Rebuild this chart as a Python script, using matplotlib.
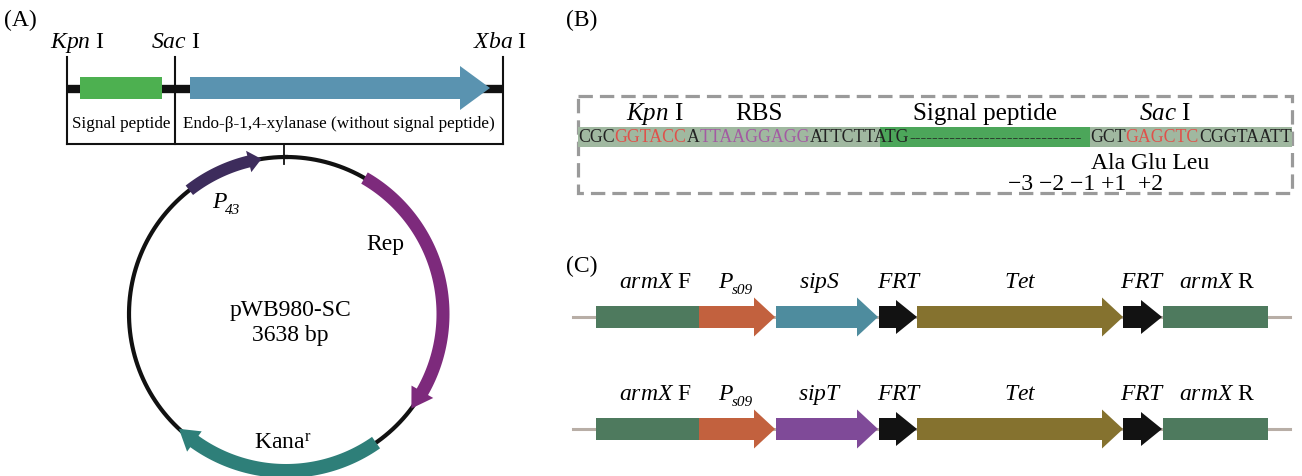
import numpy as np
import matplotlib
matplotlib.use('Agg')
import matplotlib.pyplot as plt
from matplotlib.patches import Polygon, Rectangle

plt.rcParams['font.family'] = ['Liberation Serif', 'DejaVu Serif']
plt.rcParams['mathtext.fontset'] = 'custom'
plt.rcParams['mathtext.rm'] = 'Liberation Serif'
plt.rcParams['mathtext.it'] = 'Liberation Serif:italic'

# ---- panel A: insert map (positions along the construct) ----
site_names = [r'$Kpn$ I', r'$Sac$ I', r'$Xba$ I']
site_pos = [67, 175, 503]
site_label_x = [77, 176, 500]
sp_span = (80, 162)          # signal peptide box
xyl_span = (190, 490)        # xylanase arrow (tip at end)
insert_labels = ['Signal peptide', 'Endo-β-1,4-xylanase (without signal peptide)']

# plasmid features, degrees clockwise from top
plasmid_name = 'pWB980-SC\n3638 bp'
feat_names = [('P', '43'), 'Rep', r'Kana$^{\mathrm{r}}$']
feat_start = [322, 30, 145]
feat_end = [351, 127, 223]
feat_colors = ['#3d2c5c', '#7d2a7c', '#2e7f79']
feat_label_xy = [(230, 203), (385, 245), (283, 443)]

# ---- panel B: sequence ----
seq_left = [('CGC', '#222222'), ('GGTACC', '#e0504a'), ('A', '#222222'),
            ('TTAAGGAGG', '#a35aa3'), ('ATTCTTATG', '#222222')]
seq_right = [('GCT', '#222222'), ('GAGCTC', '#e0504a'), ('CGGTAATT', '#222222')]
b_labels = [r'$Kpn$ I', 'RBS', 'Signal peptide', r'$Sac$ I']
b_label_x = [655, 759, 985, 1165]

# ---- panel C: cassettes ----
c_row1 = [r'$armX$ F', ('P', 's09'), r'$sipS$', r'$FRT$', r'$Tet$', r'$FRT$', r'$armX$ R']
c_row2 = [r'$armX$ F', ('P', 's09'), r'$sipT$', r'$FRT$', r'$Tet$', r'$FRT$', r'$armX$ R']
c_start = [596, 699, 776, 879, 917, 1123, 1163]
c_end = [699, 775, 878, 917, 1123, 1162, 1268]
c_label_x = [655, 737, 820, 900, 1020, 1143, 1217]
c_colors1 = ['#4e7a5e', '#c2613e', '#4e8c9e', '#121212', '#85722f', '#121212', '#4e7a5e']
c_colors2 = ['#4e7a5e', '#c2613e', '#7f4a98', '#121212', '#85722f', '#121212', '#4e7a5e']

fig = plt.figure(figsize=(13.02, 4.77), dpi=100)
ax = fig.add_axes([0, 0, 1, 1])
ax.set_xlim(0, 1302)
ax.set_ylim(477, 0)
ax.axis('off')

FS = 17


def label(x, y, lab):
    # plain string, or (main, subscript) pair in italics
    if isinstance(lab, tuple):
        main, sub = lab
        ax.text(x - 4, y, main, fontsize=FS, style='italic', ha='right', va='center')
        ax.text(x - 5, y + 8, sub, fontsize=11, style='italic', ha='left', va='center')
    else:
        ax.text(x, y, lab, fontsize=FS, ha='center', va='center')


# panel letters
ax.text(20, 20, '(A)', fontsize=FS, ha='center', va='center')
ax.text(582, 20, '(B)', fontsize=FS, ha='center', va='center')
ax.text(582, 266, '(C)', fontsize=FS, ha='center', va='center')

# ----- A: insert -----
ax.plot([site_pos[0], site_pos[2]], [90, 90], color='#111111', lw=6,
        solid_capstyle='butt', zorder=1)
for x, lab, lx in zip(site_pos, site_names, site_label_x):
    ax.plot([x, x], [58, 145], color='#111111', lw=1.5)
    ax.text(lx, 43, lab, fontsize=FS, ha='center', va='center')
ax.plot([site_pos[0], site_pos[2]], [145, 145], color='#111111', lw=1.5)
ax.add_patch(Rectangle((sp_span[0], 78), sp_span[1] - sp_span[0], 22, color='#4db050',
                       lw=0, zorder=2))
x0, x1 = xyl_span
ax.add_patch(Polygon([(x0, 78), (x1 - 30, 78), (x1 - 30, 67), (x1, 89),
                      (x1 - 30, 111), (x1 - 30, 100), (x0, 100)], closed=True,
                     color='#5a93b0', lw=0, zorder=2))
ax.text((site_pos[0] + site_pos[1]) / 2, 124, insert_labels[0], fontsize=12.3, ha='center', va='center')
ax.text((site_pos[1] + site_pos[2]) / 2, 124, insert_labels[1], fontsize=12.3, ha='center', va='center')
ax.plot([284, 284], [145, 165], color='#111111', lw=1.3)

# ----- A: plasmid -----
cx, cy, R = 286, 315, 157
t = np.radians(np.linspace(0, 360, 400))
ax.plot(cx + R * np.sin(t), cy - R * np.cos(t), color='#111111', lw=3)


def arc_arrow(a0, a1, width, head_w, head_len, color):
    head_deg = np.degrees(head_len / R)
    body_end = a1 - head_deg
    ang = np.radians(np.linspace(a0, body_end, 80))
    ro, ri = R + width / 2, R - width / 2
    outer = list(zip(cx + ro * np.sin(ang), cy - ro * np.cos(ang)))
    inner = list(zip(cx + ri * np.sin(ang), cy - ri * np.cos(ang)))[::-1]
    be = np.radians(body_end)
    tip = np.radians(a1)
    head = [(cx + (R + head_w / 2) * np.sin(be), cy - (R + head_w / 2) * np.cos(be)),
            (cx + R * np.sin(tip), cy - R * np.cos(tip)),
            (cx + (R - head_w / 2) * np.sin(be), cy - (R - head_w / 2) * np.cos(be))]
    ax.add_patch(Polygon(outer + head + inner, closed=True, color=color, lw=0, zorder=3))


arc_arrow(feat_start[0], feat_end[0], 12, 22, 13, feat_colors[0])
arc_arrow(feat_start[1], feat_end[1], 13, 25, 20, feat_colors[1])
arc_arrow(feat_start[2], feat_end[2], 14, 25, 20, feat_colors[2])
for name, (lx, ly) in zip(feat_names, feat_label_xy):
    label(lx, ly, name)
ax.text(290, 323, plasmid_name, fontsize=FS, ha='center', va='center', linespacing=1.25)

# ----- B: sequence box -----
ax.add_patch(Rectangle((578, 97), 1292 - 578, 194 - 97, fill=False, ec='#9a9a9a',
                       lw=2.3, ls=(0, (4.5, 2.2))))
ax.add_patch(Rectangle((578, 128), 1292 - 578, 20, color='#a0b8a0', lw=0))
ax.add_patch(Rectangle((880, 128), 1090 - 880, 20, color='#4ca65a', lw=0))
for lab, lx in zip(b_labels, b_label_x):
    ax.text(lx, 114, lab, fontsize=FS + 1, ha='center', va='center')

fig.canvas.draw()
renderer = fig.canvas.get_renderer()
inv = ax.transData.inverted()


def put_segments(x, segs, y=138, fs=12.8):
    for s, c in segs:
        tx = ax.text(x, y, s, fontsize=fs, color=c, ha='left', va='center')
        bb = tx.get_window_extent(renderer)
        x = inv.transform((bb.x1, bb.y0))[0]
    return x


xe = put_segments(578, seq_left)
ax.text(xe, 138, '-' * 30, fontsize=12.5, color='#222222', ha='left', va='center')
put_segments(1090, seq_right)
ax.text(1150, 164, 'Ala Glu Leu', fontsize=FS, ha='center', va='center')
ax.text(1086, 185, '\u22123 \u22122 \u22121 +1  +2', fontsize=FS, ha='center', va='center')

# ----- C: cassettes -----


def cassette(yc, labels, colors):
    ax.plot([573, 1290], [yc, yc], color='#b8aea6', lw=2.2, zorder=1)
    for i, (lab, c) in enumerate(zip(labels, colors)):
        s, e = c_start[i], c_end[i]
        if i in (0, 6):
            ax.add_patch(Rectangle((s, yc - 11), e - s, 22, color=c, lw=0, zorder=2))
        else:
            hw = 17 if c == '#121212' else 19.5
            hl = 21
            ax.add_patch(Polygon([(s, yc - 11), (e - hl, yc - 11), (e - hl, yc - hw), (e, yc),
                                  (e - hl, yc + hw), (e - hl, yc + 11), (s, yc + 11)],
                                 closed=True, color=c, lw=0, zorder=2))
        label(c_label_x[i], yc - 35, lab)


cassette(318, c_row1, c_colors1)
cassette(430, c_row2, c_colors2)

fig.savefig('out.png', dpi=100)
